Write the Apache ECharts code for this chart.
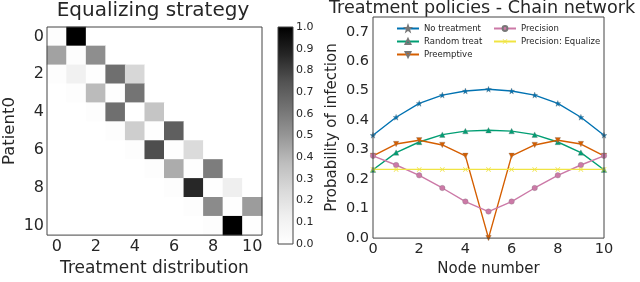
<!DOCTYPE html>
<html>
<head>
<meta charset="utf-8">
<script src="https://cdn.jsdelivr.net/npm/echarts@6/dist/echarts.min.js"></script>
<style>
html,body{margin:0;padding:0;background:#fff;}
#chart{width:640px;height:282px;}
</style>
</head>
<body>
<div id="chart"></div>
<script>
// ---------- data ----------
const heatCategories = ['0','1','2','3','4','5','6','7','8','9','10'];
// rows: Patient0, columns: Treatment distribution
const equalizeMatrix = [
  [0.02, 1.00, 0,    0,    0,    0,    0,    0,    0,    0,    0   ],
  [0.46, 0.02, 0.53, 0,    0,    0,    0,    0,    0,    0,    0   ],
  [0.02, 0.12, 0.01, 0.64, 0.26, 0,    0,    0,    0,    0,    0   ],
  [0,    0.02, 0.38, 0.01, 0.62, 0,    0,    0,    0,    0,    0   ],
  [0,    0,    0.015,0.64, 0.00, 0.34, 0,    0,    0,    0,    0   ],
  [0,    0,    0,    0.015,0.30, 0.01, 0.70, 0,    0,    0,    0   ],
  [0,    0,    0,    0,    0.015,0.76, 0.01, 0.24, 0,    0,    0   ],
  [0,    0,    0,    0,    0,    0.015,0.43, 0.01, 0.59, 0,    0   ],
  [0,    0,    0,    0,    0,    0,    0.015,0.87, 0.01, 0.13, 0   ],
  [0,    0,    0,    0,    0,    0,    0,    0.015,0.54, 0.01, 0.48],
  [0,    0,    0,    0,    0,    0,    0,    0,    0.02, 1.00, 0.01]
];
const colorbarTicks = [0,0.1,0.2,0.3,0.4,0.5,0.6,0.7,0.8,0.9,1.0];

const nodes = [0,1,2,3,4,5,6,7,8,9,10];
const noTreatment   = [0.349,0.410,0.457,0.485,0.499,0.505,0.499,0.485,0.457,0.410,0.349];
const randomTreat   = [0.232,0.290,0.326,0.351,0.363,0.366,0.363,0.351,0.326,0.290,0.232];
const preemptive    = [0.279,0.319,0.332,0.316,0.279,0.000,0.279,0.316,0.332,0.319,0.279];
const precision     = [0.279,0.248,0.213,0.170,0.124,0.090,0.124,0.170,0.213,0.248,0.279];
const precisionEq   = [0.233,0.233,0.233,0.233,0.233,0.233,0.233,0.233,0.233,0.233,0.233];
const seriesNames = ['No treatment','Random treat','Preemptive','Precision','Precision: Equalize'];

// ---------- styles ----------
const greys = ['#ffffff','#f0f0f0','#d9d9d9','#bdbdbd','#969696','#737373','#525252','#252525','#000000'];
const txt = '#262626';
const font = 'DejaVu Sans';
const colors = ['#0072B2','#009E73','#D55E00','#CC79A7','#F0E442'];
const starPath = 'path://M0,-10 L2.35,-3.24 L9.51,-3.09 L3.8,1.24 L5.88,8.09 L0,4 L-5.88,8.09 L-3.8,1.24 L-9.51,-3.09 L-2.35,-3.24 Z';
const xPath = 'path://M0,1 L1,0 L5,4 L9,0 L10,1 L6,5 L10,9 L9,10 L5,6 L1,10 L0,9 L4,5 Z';

const heatData = [];
equalizeMatrix.forEach((row, r) => row.forEach((v, c) => heatData.push([c, r, v])));

const chart = echarts.init(document.getElementById('chart'), null, {renderer: 'canvas'});

function lineSeries(idx, data, symbol, size, rotate, border) {
  return {
    name: seriesNames[idx], type: 'line', xAxisIndex: 2, yAxisIndex: 2,
    data: nodes.map((n, i) => [n, data[i]]),
    symbol: symbol, symbolSize: size, symbolRotate: rotate || 0,
    showAllSymbol: true,
    lineStyle: {color: colors[idx], width: 1.4},
    itemStyle: {color: colors[idx], borderColor: '#777', borderWidth: border},
    emphasis: {disabled: true}, animation: false
  };
}

const stops = greys.map((c, i) => ({offset: i / (greys.length - 1), color: c}));

chart.setOption({
  animation: false,
  textStyle: {fontFamily: font, color: txt},
  title: [
    {text: 'Equalizing strategy', left: 153, top: 1, textAlign: 'center', padding: 0,
     textStyle: {fontFamily: font, fontSize: 20, fontWeight: 'normal', color: txt}},
    {text: 'Treatment policies - Chain network', left: 482, top: -1, textAlign: 'center', padding: 0,
     textStyle: {fontFamily: font, fontSize: 17.6, fontWeight: 'normal', color: txt}}
  ],
  grid: [
    {left: 45, top: 27, width: 217, height: 217, show: true, z: 10, borderColor: '#444', borderWidth: 1, backgroundColor: 'transparent'},
    {left: 278, top: 27, width: 15, height: 217, show: true, z: 10, borderColor: '#444', borderWidth: 1, backgroundColor: 'transparent'},
    {left: 373, top: 17, width: 231, height: 231, show: true, z: 10, borderColor: '#444', borderWidth: 1, backgroundColor: 'transparent'}
  ],
  visualMap: {
    type: 'continuous', show: false, min: 0, max: 1, seriesIndex: 0,
    inRange: {color: greys}
  },
  legend: [
    {data: seriesNames.slice(0, 3), orient: 'vertical', left: 396, top: 24, itemGap: 4,
     itemWidth: 22, itemHeight: 6, padding: 0,
     textStyle: {fontFamily: font, fontSize: 8.5, color: txt}},
    {data: seriesNames.slice(3), orient: 'vertical', left: 493, top: 24, itemGap: 4,
     itemWidth: 22, itemHeight: 6, padding: 0,
     textStyle: {fontFamily: font, fontSize: 8.5, color: txt}}
  ],
  xAxis: [
    {gridIndex: 0, type: 'category', data: heatCategories, position: 'bottom',
     axisLine: {show: false}, axisTick: {show: false}, splitLine: {show: false},
     axisLabel: {interval: 1, fontSize: 16, color: txt, margin: 4, fontFamily: font},
     name: 'Treatment distribution', nameLocation: 'middle', nameGap: 22,
     nameTextStyle: {fontSize: 17, color: txt, fontFamily: font}},
    {gridIndex: 1, type: 'category', data: ['cb'], show: false},
    {gridIndex: 2, type: 'value', min: 0, max: 10, interval: 2,
     axisLine: {show: false}, axisTick: {show: false}, splitLine: {show: false},
     axisLabel: {fontSize: 14.5, color: txt, margin: 4, fontFamily: font},
     name: 'Node number', nameLocation: 'middle', nameGap: 20,
     nameTextStyle: {fontSize: 15, color: txt, fontFamily: font}}
  ],
  yAxis: [
    {gridIndex: 0, type: 'category', data: heatCategories, inverse: true,
     axisLine: {show: false}, axisTick: {show: false}, splitLine: {show: false},
     axisLabel: {interval: 1, fontSize: 16, color: txt, margin: 3, fontFamily: font},
     name: 'Patient0', nameLocation: 'middle', nameGap: 29,
     nameTextStyle: {fontSize: 16.5, color: txt, fontFamily: font}},
    {gridIndex: 1, type: 'value', min: 0, max: 1, interval: 0.1, position: 'right',
     axisLine: {show: false}, axisTick: {show: false}, splitLine: {show: false},
     axisLabel: {fontSize: 11, color: txt, margin: 3, fontFamily: font,
       formatter: v => v.toFixed(1)}},
    {gridIndex: 2, type: 'value', min: 0, max: 0.75, interval: 0.1,
     axisLine: {show: false}, axisTick: {show: false}, splitLine: {show: false},
     axisLabel: {fontSize: 14.5, color: txt, margin: 4, fontFamily: font, showMaxLabel: false,
       formatter: v => (Math.abs(v * 10 - Math.round(v * 10)) < 1e-6 ? v.toFixed(1) : '')},
     name: 'Probability of infection', nameLocation: 'middle', nameGap: 33,
     nameTextStyle: {fontSize: 15, color: txt, fontFamily: font}}
  ],
  series: [
    {type: 'heatmap', xAxisIndex: 0, yAxisIndex: 0, data: heatData,
     emphasis: {disabled: true}, animation: false},
    {type: 'bar', xAxisIndex: 1, yAxisIndex: 1, data: [colorbarTicks[colorbarTicks.length - 1]],
     barWidth: '100%', silent: true,
     itemStyle: {color: new echarts.graphic.LinearGradient(0, 1, 0, 0, stops)}},
    lineSeries(0, noTreatment, starPath, 6, 0, 0.3),
    lineSeries(1, randomTreat, 'triangle', 5.5, 0, 0.3),
    lineSeries(2, preemptive, 'triangle', 5.5, 180, 0.3),
    lineSeries(3, precision, 'circle', 5.5, 0, 0.3),
    lineSeries(4, precisionEq, xPath, 5, 0, 0)
  ]
});
</script>
</body>
</html>
